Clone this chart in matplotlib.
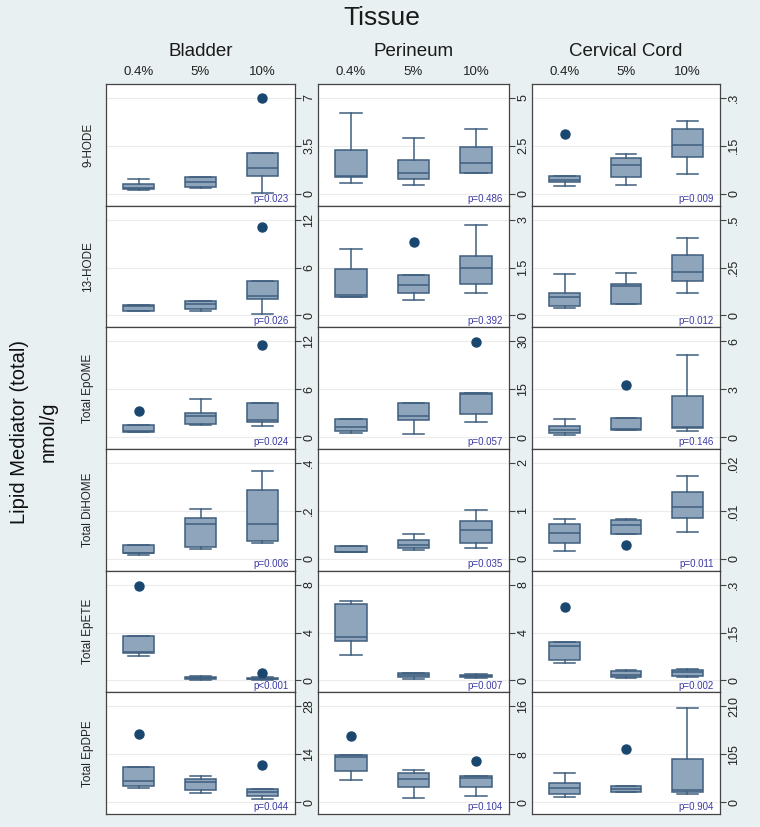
import matplotlib
matplotlib.use("Agg")
import matplotlib.pyplot as plt

plt.rcParams['font.family'] = ['Liberation Sans', 'DejaVu Sans']

lipids = ["9-HODE", "13-HODE", "Total EpOME", "Total DiHOME", "Total EpETE", "Total EpDPE"]
tissues = ["Bladder", "Perineum", "Cervical Cord"]
concs = ["0.4%", "5%", "10%"]

# [row][tissue][conc]
whisk_lo = [
    [[0.27, 0.41, 0.05], [0.57, 0.43, 1.07], [0.024, 0.028, 0.063]],
    [[0.5, 0.58, 0.12], [0.56, 0.47, 0.69], [0.041, 0.059, 0.116]],
    [[0.58, 1.57, 1.44], [1.35, 0.93, 4.8], [0.12, 0.44, 0.39]],
    [[0.017, 0.041, 0.065], [0.14, 0.18, 0.23], [0.0017, 0.0052, 0.0056]],
    [[2.0, 0.05, 0.05], [2.1, 0.15, 0.2], [0.053, 0.008, 0.009]],
    [[4.1, 2.6, 0.9], [3.7, 0.7, 1.0], [11, 22, 18]],
]
q1 = [
    [[0.31, 0.51, 1.33], [0.86, 0.78, 1.07], [0.036, 0.051, 0.114]],
    [[0.5, 0.79, 2.08], [0.56, 0.71, 0.98], [0.05, 0.059, 0.179]],
    [[0.58, 1.69, 1.86], [2.0, 5.3, 7.3], [0.25, 0.44, 0.56]],
    [[0.023, 0.048, 0.073], [0.14, 0.23, 0.32], [0.0033, 0.0052, 0.0085]],
    [[2.25, 0.12, 0.1], [3.3, 0.3, 0.28], [0.063, 0.01, 0.013]],
    [[4.7, 3.5, 1.75], [5.2, 2.5, 2.5], [18, 22, 22]],
]
median = [
    [[0.39, 0.87, 1.86], [0.93, 1.10, 1.60], [0.044, 0.090, 0.153]],
    [[1.2, 1.42, 2.46], [0.65, 0.96, 1.48], [0.097, 0.153, 0.228]],
    [[0.74, 2.60, 2.10], [3.2, 6.5, 13.5], [0.41, 0.48, 0.60]],
    [[0.025, 0.146, 0.145], [0.145, 0.28, 0.61], [0.0054, 0.0071, 0.0108]],
    [[2.4, 0.2, 0.15], [3.6, 0.45, 0.35], [0.109, 0.016, 0.025]],
    [[6.1, 6.0, 2.9], [7.5, 3.8, 4.0], [31, 28, 26]],
]
q3 = [
    [[0.70, 1.23, 2.97], [2.28, 1.78, 2.43], [0.055, 0.111, 0.204]],
    [[1.25, 1.75, 4.25], [1.46, 1.27, 1.86], [0.119, 0.162, 0.316]],
    [[1.57, 3.05, 4.25], [5.5, 10.6, 13.8], [0.71, 1.22, 2.57]],
    [[0.058, 0.171, 0.286], [0.27, 0.40, 0.79], [0.0073, 0.0081, 0.014]],
    [[3.67, 0.3, 0.22], [6.4, 0.6, 0.45], [0.119, 0.028, 0.031]],
    [[10.2, 6.7, 3.8], [7.8, 4.8, 4.3], [42, 35, 94]],
]
whisk_hi = [
    [[1.09, 1.23, 2.97], [4.24, 2.91, 3.38], [0.055, 0.123, 0.228]],
    [[1.25, 1.79, 4.25], [2.09, 1.27, 2.83], [0.217, 0.219, 0.402]],
    [[1.57, 4.74, 4.25], [5.7, 10.6, 13.8], [1.14, 1.22, 5.17]],
    [[0.058, 0.208, 0.366], [0.27, 0.52, 1.01], [0.0083, 0.0083, 0.0173]],
    [[3.67, 0.35, 0.25], [6.6, 0.65, 0.5], [0.119, 0.034, 0.037]],
    [[10.2, 7.6, 3.8], [7.9, 5.3, 4.3], [63, 35, 206]],
]
outliers = [
    [[[], [], [7.0]], [[], [], []], [[0.186], [], []]],
    [[[], [], [11.1]], [[], [2.29], []], [[], [], []]],
    [[[3.26], [], [11.6]], [[], [], [29.9]], [[], [3.26], []]],
    [[[], [], []], [[], [], []], [[], [0.0029], []]],
    [[[7.9], [], [0.58]], [[], [], []], [[0.23], [], []]],
    [[[19.8], [], [10.8]], [[11.0], [], [6.8]], [[], [116], []]],
]
p_values = [
    ["p=0.023", "p=0.486", "p=0.009"],
    ["p=0.026", "p=0.392", "p=0.012"],
    ["p=0.024", "p=0.057", "p=0.146"],
    ["p=0.006", "p=0.035", "p=0.011"],
    ["p<0.001", "p=0.007", "p=0.002"],
    ["p=0.044", "p=0.104", "p=0.904"],
]
tick_max = [
    [7, 5, 0.3],
    [12, 3, 0.5],
    [12, 30, 6],
    [0.4, 2, 0.02],
    [8, 8, 0.3],
    [28, 16, 210],
]
tick_labels = [
    [["0", "3.5", "7"], ["0", "2.5", "5"], ["0", ".15", ".3"]],
    [["0", "6", "12"], ["0", "1.5", "3"], ["0", ".25", ".5"]],
    [["0", "6", "12"], ["0", "15", "30"], ["0", "3", "6"]],
    [["0", ".2", ".4"], ["0", "1", "2"], ["0", ".01", ".02"]],
    [["0", "4", "8"], ["0", "4", "8"], ["0", ".15", ".3"]],
    [["0", "14", "28"], ["0", "8", "16"], ["0", "105", "210"]],
]

BG = "#e9f0f1"
BOX_FACE = "#8fa5bc"
BOX_EDGE = "#3f5f7f"
DOT = "#1a476f"
PCOL = "#3b3ba6"
FRAME = "#444444"

W, H = 760, 827
fig = plt.figure(figsize=(W / 100, H / 100), dpi=100, facecolor=BG)

col_x = [(106, 295), (318, 509), (532, 720)]
top0, bottom0 = 84, 814
nrow = len(lipids)
rh = (bottom0 - top0) / nrow

for r in range(nrow):
    for c in range(len(tissues)):
        x0, x1 = col_x[c]
        ytop = top0 + r * rh
        ax = fig.add_axes([x0 / W, 1 - (ytop + rh) / H, (x1 - x0) / W, rh / H])
        ax.set_facecolor("white")
        stats = []
        for k in range(len(concs)):
            stats.append(dict(
                med=median[r][c][k], q1=q1[r][c][k], q3=q3[r][c][k],
                whislo=whisk_lo[r][c][k], whishi=whisk_hi[r][c][k],
                fliers=outliers[r][c][k], label=concs[k]))
        ax.bxp(stats, positions=[1, 2, 3], widths=0.5, patch_artist=True,
               showfliers=True,
               boxprops=dict(facecolor=BOX_FACE, edgecolor=BOX_EDGE, linewidth=1.1),
               medianprops=dict(color=BOX_EDGE, linewidth=1.1),
               whiskerprops=dict(color=BOX_EDGE, linewidth=1.1),
               capprops=dict(color=BOX_EDGE, linewidth=1.1),
               capwidths=0.34,
               flierprops=dict(marker="o", markerfacecolor=DOT, markeredgecolor=DOT,
                               markersize=6.5, linestyle="none"))
        M = tick_max[r][c]
        ax.set_xlim(0.47, 3.53)
        ax.set_ylim(-0.125 * M, 1.146 * M)
        ticks = [0, M / 2, M]
        ax.set_yticks(ticks)
        ax.set_yticklabels(tick_labels[r][c])
        ax.yaxis.tick_right()
        ax.tick_params(axis="y", direction="out", length=4, width=0.8, color=FRAME,
                       labelsize=9, pad=2, labelcolor="#222222")
        for lab in ax.get_yticklabels():
            lab.set_rotation(90)
            lab.set_va("center")
            lab.set_ha("left")
        ax.set_xticks([])
        for y in ticks:
            ax.axhline(y, color="#ececec", linewidth=0.8, zorder=0)
        for s in ax.spines.values():
            s.set_color(FRAME)
            s.set_linewidth(0.9)
        ax.text(0.965, 0.015, p_values[r][c], transform=ax.transAxes,
                ha="right", va="bottom", fontsize=7, color=PCOL)
        if r == 0:
            for k, lab in enumerate(concs):
                ax.text((k + 1 - 0.47) / 3.06, 1.0 + 12 / rh,
                        lab, transform=ax.transAxes, ha="center", va="center",
                        fontsize=9.5, color="#222222")
            fig.text((x0 + x1) / 2 / W, 1 - 52 / H, tissues[c], ha="center",
                     va="center", fontsize=13.5, color="#1a1a1a")
        if c == 0:
            fig.text(88 / W, 1 - (ytop + rh / 2) / H, lipids[r], rotation=90,
                     ha="center", va="center", fontsize=8.5, color="#222222")

fig.text(382 / W, 1 - 18 / H, "Tissue", ha="center", va="center",
         fontsize=19, color="#1a1a1a")
fig.text(34 / W, 1 - 432 / H, "Lipid Mediator (total)\nnmol/g", rotation=90,
         ha="center", va="center", fontsize=14.5, color="#111111",
         multialignment="center", linespacing=1.6)

fig.savefig("out.png", dpi=100, facecolor=BG)
